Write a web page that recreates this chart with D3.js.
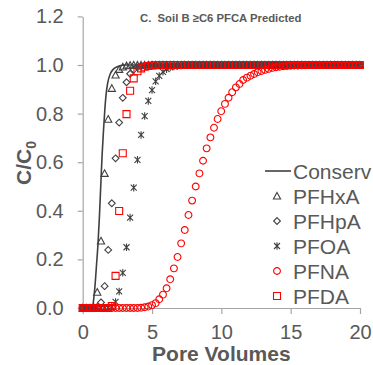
<!DOCTYPE html>
<html><head><meta charset="utf-8">
<script src="https://cdn.jsdelivr.net/npm/d3@7"></script>
<style>
html,body{margin:0;padding:0;background:#fff;}
svg{display:block;font-family:"Liberation Sans",Arial,sans-serif;}
</style></head>
<body><svg id="c" width="373" height="365"></svg>
<script>
// ---- data ----
const title = "C.  Soil B \u2265C6 PFCA Predicted";
const xTicks = [0, 5, 10, 15, 20];
const yTicks = [0, 0.2, 0.4, 0.6, 0.8, 1.0, 1.2];
const seriesNames = ["PFHxA", "PFHpA", "PFOA", "PFNA", "PFDA"];

const conservPV = [0,0.69,0.8,0.9,1.0,1.1,1.2,1.3,1.4,1.5,1.6,1.7,1.8,2.0,2.2,2.5,3.0,20];
const conservC  = [0,0,0.04,0.1,0.18,0.26,0.37,0.5,0.63,0.73,0.82,0.885,0.925,0.965,0.982,0.993,1,1];

const pv = [0,0.26,0.53,0.79,1.05,1.32,1.58,1.84,2.10,2.37,
  2.63,2.89,3.16,3.42,3.68,3.95,4.21,4.47,4.73,5.00,
  5.26,5.52,5.79,6.05,6.31,6.58,6.84,7.10,7.36,7.63,
  7.89,8.15,8.42,8.68,8.94,9.21,9.47,9.73,9.99,10.26,
  10.52,10.78,11.05,11.31,11.57,11.84,12.10,12.36,12.62,12.89,
  13.15,13.41,13.68,13.94,14.20,14.47,14.73,14.99,15.25,15.52,
  15.78,16.04,16.31,16.57,16.83,17.10,17.36,17.62,17.88,18.15,
  18.41,18.67,18.94,19.20,19.46,19.73,19.99];

const pfhxa = [0,0,0,0.004,0.065,0.276,0.554,0.777,0.904,0.959,
  0.982,0.992,0.997,0.999,1,1,1,1,1,1,
  1,1,1,1,1,1,1,1,1,1,
  1,1,1,1,1,1,1,1,1,1,
  1,1,1,1,1,1,1,1,1,1,
  1,1,1,1,1,1,1,1,1,1,
  1,1,1,1,1,1,1,1,1,1,
  1,1,1,1,1,1,1];
const pfhpa = [0,0,0,0,0.004,0.023,0.09,0.239,0.431,0.616,
  0.763,0.865,0.929,0.964,0.981,0.99,0.995,0.998,0.999,1,
  1,1,1,1,1,1,1,1,1,1,
  1,1,1,1,1,1,1,1,1,1,
  1,1,1,1,1,1,1,1,1,1,
  1,1,1,1,1,1,1,1,1,1,
  1,1,1,1,1,1,1,1,1,1,
  1,1,1,1,1,1,1];
const pfoa = [0,0,0,0,0,0,0,0.001,0.006,0.025,
  0.068,0.145,0.25,0.372,0.495,0.61,0.712,0.79,0.852,0.897,
  0.933,0.955,0.972,0.983,0.99,0.994,0.996,0.998,0.999,1,
  1,1,1,1,1,1,1,1,1,1,
  1,1,1,1,1,1,1,1,1,1,
  1,1,1,1,1,1,1,1,1,1,
  1,1,1,1,1,1,1,1,1,1,
  1,1,1,1,1,1,1];
const pfna = [0,0,0,0,0,0,0,0,0,0,
  0,0,0,0,0,0,0.001,0.003,0.006,0.012,
  0.02,0.036,0.055,0.081,0.118,0.163,0.21,0.266,0.321,0.383,
  0.442,0.5,0.554,0.606,0.657,0.702,0.742,0.778,0.81,0.84,
  0.865,0.888,0.908,0.922,0.938,0.948,0.956,0.963,0.97,0.975,
  0.98,0.984,0.988,0.991,0.993,0.995,0.996,0.997,0.998,0.998,
  0.999,0.999,1,1,1,1,1,1,1,1,
  1,1,1,1,1,1,1];
const pfda = [0,0,0,0,0,0,0,0,0.008,0.132,
  0.399,0.637,0.798,0.894,0.945,0.974,0.986,0.993,0.996,0.998,
  0.999,1,1,1,1,1,1,1,1,1,
  1,1,1,1,1,1,1,1,1,1,
  1,1,1,1,1,1,1,1,1,1,
  1,1,1,1,1,1,1,1,1,1,
  1,1,1,1,1,1,1,1,1,1,
  1,1,1,1,1,1,1];

// ---- drawing ----
const svg = d3.select("#c");
const gray = "#595959", axisCol = "#a6a6a6", markCol = "#404040", red = "#ff0000";
const x = d3.scaleLinear().domain([0, 20]).range([82.7, 360]);
const y = d3.scaleLinear().domain([0, 1.2]).range([308, 16.4]);

// axes
const gy = svg.append("g").attr("transform", `translate(${x(0)},0)`)
  .call(d3.axisLeft(y).tickValues(yTicks).tickSize(5).tickSizeOuter(0).tickPadding(14).tickFormat(d3.format(".1f")));
const gx = svg.append("g").attr("transform", `translate(0,${y(0)})`)
  .call(d3.axisBottom(x).tickValues(xTicks).tickSize(6).tickSizeOuter(0).tickPadding(11).tickFormat(d3.format("d")));
[gx, gy].forEach(g => {
  g.select(".domain").attr("stroke", axisCol).attr("stroke-width", 1.2);
  g.selectAll(".tick line").attr("stroke", axisCol).attr("stroke-width", 1.2);
  g.selectAll(".tick text").attr("fill", gray).style("font-size", "20px")
    .style("font-family", "'Liberation Sans',Arial,sans-serif");
});

// title
svg.append("text").attr("x", 140).attr("y", 22).attr("fill", gray)
  .style("font-size", "11.3px").style("font-weight", "bold").style("white-space", "pre")
  .attr("xml:space", "preserve").text(title);

// axis titles
svg.append("text").attr("x", x(10)).attr("y", 361).attr("text-anchor", "middle")
  .attr("fill", gray).style("font-size", "21px").style("font-weight", "bold").text("Pore Volumes");
const yt = svg.append("text").attr("transform", "translate(31,163) rotate(-90)")
  .attr("text-anchor", "middle").attr("fill", gray).style("font-size", "21px").style("font-weight", "bold");
yt.append("tspan").text("C/C");
yt.append("tspan").attr("dy", 5).style("font-size", "14px").text("0");

// conservative line
const cons = conservPV.map((d, i) => [d, conservC[i]]);
svg.append("path").datum(cons)
  .attr("d", d3.line().x(d => x(d[0])).y(d => y(d[1])).curve(d3.curveMonotoneX))
  .attr("fill", "none").attr("stroke", markCol).attr("stroke-width", 1.6);

// symbol shapes
const shapes = {
  tri: "M0,-3.6L3.6,3L-3.6,3Z",
  dia: "M0,-3.4L3.4,0L0,3.4L-3.4,0Z",
  star: "M-3,-3L3,3M-3,3L3,-3M0,-3.8L0,3.8",
  circ: "M3.4,0A3.4,3.4 0 1,1 -3.4,0A3.4,3.4 0 1,1 3.4,0Z",
  sq: "M-3.5,-3.5H3.5V3.5H-3.5Z"
};
const series = [
  {name: seriesNames[0], vals: pfhxa, shape: shapes.tri, col: markCol},
  {name: seriesNames[1], vals: pfhpa, shape: shapes.dia, col: markCol},
  {name: seriesNames[2], vals: pfoa, shape: shapes.star, col: markCol},
  {name: seriesNames[3], vals: pfna, shape: shapes.circ, col: red},
  {name: seriesNames[4], vals: pfda, shape: shapes.sq, col: red}
];
series.forEach(s => {
  svg.append("g").selectAll("path").data(s.vals).join("path")
    .attr("transform", (d, i) => `translate(${x(pv[i])},${y(d)})`)
    .attr("d", s.shape).attr("fill", "none").attr("stroke", s.col).attr("stroke-width", 1.1);
});

// legend
const lg = svg.append("g");
lg.append("line").attr("x1", 265).attr("x2", 291).attr("y1", 171).attr("y2", 171)
  .attr("stroke", markCol).attr("stroke-width", 1.6);
lg.append("text").attr("x", 293).attr("y", 178.5).attr("fill", gray).style("font-size", "21px").text("Conserv");
series.forEach((s, i) => {
  const cy = 196 + i * 25;
  lg.append("path").attr("transform", `translate(277,${cy})`).attr("d", s.shape)
    .attr("fill", "none").attr("stroke", s.col).attr("stroke-width", 1.1);
  lg.append("text").attr("x", 293).attr("y", cy + 7.5).attr("fill", gray).style("font-size", "21px").text(s.name);
});
</script></body></html>
